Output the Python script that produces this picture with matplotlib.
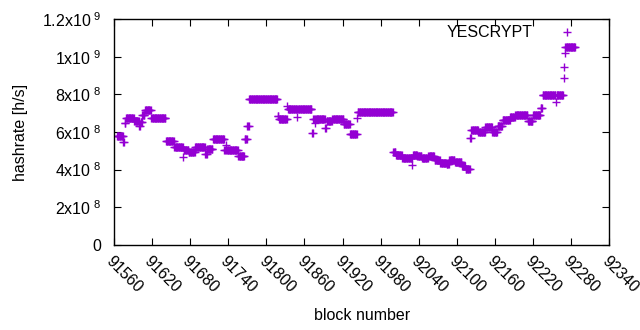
import numpy as np
from matplotlib import pyplot as plt

# hashrate estimate per block, read off the picture as constant runs
# run_start = first block of the run, run_value = hashrate in units of 1e8 h/s
run_start = [91565, 91575, 91577, 91579, 91592, 91600, 91602, 91605, 91609, 91619,
             91642, 91655, 91669, 91670, 91678, 91688, 91704, 91707, 91716, 91734,
             91736, 91737, 91756, 91766, 91770, 91773, 91818, 91820, 91833, 91834,
             91848, 91849, 91872, 91874, 91877, 91878, 91893, 91895, 91904, 91922,
             91932, 91943, 91944, 92000, 92004, 92014, 92030, 92031, 92038, 92045,
             92055, 92065, 92074, 92084, 92088, 92097, 92108, 92114, 92121, 92123,
             92134, 92145, 92156, 92164, 92172, 92184, 92192, 92212, 92220, 92232,
             92235, 92256, 92257, 92268, 92269, 92270, 92271]
run_value = [5.78, 5.47, 6.50, 6.77, 6.58, 6.30, 6.55, 6.90, 7.17, 6.77,
             5.52, 5.18, 4.67, 5.04, 4.94, 5.18, 4.83, 5.10, 5.63, 5.04,
             5.30, 5.04, 4.72, 5.63, 6.32, 7.73, 6.85, 6.70, 7.40, 7.20,
             6.80, 7.20, 5.95, 6.70, 6.50, 6.70, 6.20, 6.60, 6.70, 6.40,
             5.90, 6.75, 7.04, 4.95, 4.80, 4.60, 4.25, 4.80, 4.70, 4.60,
             4.70, 4.50, 4.35, 4.30, 4.50, 4.40, 4.20, 4.05, 5.70, 6.10,
             6.00, 6.25, 6.00, 6.30, 6.65, 6.80, 6.90, 6.60, 6.90, 7.30,
             7.95, 7.60, 7.95, 8.87, 9.45, 10.2, 10.5]
last_block = 92286

xticks = list(range(91560, 92341, 60))
yticks = [0, 2e8, 4e8, 6e8, 8e8, 1e9, 1.2e9]
ytick_labels = ['0', r'2x10$^{\ 8}$', r'4x10$^{\ 8}$', r'6x10$^{\ 8}$',
                r'8x10$^{\ 8}$', r'1x10$^{\ 9}$', r'1.2x10$^{\ 9}$']

# expand runs to one point per block
lengths = np.diff(run_start + [last_block + 1])
blocks = np.arange(run_start[0], last_block + 1)
hashrate = np.repeat(np.array(run_value) * 1e8, lengths)

plt.rcParams['font.family'] = ['Liberation Sans', 'DejaVu Sans']
plt.rcParams['mathtext.fontset'] = 'custom'
plt.rcParams['mathtext.rm'] = 'Liberation Sans'
plt.rcParams['mathtext.default'] = 'regular'

purple = '#9400d3'
fs = 11.5

fig = plt.figure(figsize=(6.4, 3.3), dpi=100)
ax = fig.add_axes([0.178, 0.258, 0.774, 0.684])
ax.plot(blocks, hashrate, linestyle='none', marker='+', ms=6.2, mew=1.0, color=purple)

ax.set_xlim(91560, 92340)
ax.set_ylim(0, 1.2e9)
ax.set_xticks(xticks)
ax.set_xticklabels([str(t) for t in xticks], rotation=-45, ha='left', va='top',
                   rotation_mode='anchor')
ax.set_yticks(yticks)
ax.set_yticklabels(ytick_labels)
ax.tick_params(direction='in', length=5, width=0.8, top=True, right=True,
               labelsize=fs, colors='black')
ax.tick_params(axis='x', pad=6)
ax.tick_params(axis='y', pad=9)
for s in ax.spines.values():
    s.set_linewidth(1.0)

ax.set_xlabel('block number', fontsize=fs, labelpad=9)
ax.set_ylabel('hashrate [h/s]', fontsize=fs, labelpad=10)

# key in gnuplot style: text then sample point
ax.text(0.845, 0.942, 'YESCRYPT', transform=ax.transAxes, ha='right', va='center',
        fontsize=fs)
ax.plot([0.915], [0.942], transform=ax.transAxes, linestyle='none', marker='+',
        ms=6.2, mew=1.0, color=purple)

fig.savefig('out.png', dpi=100)
